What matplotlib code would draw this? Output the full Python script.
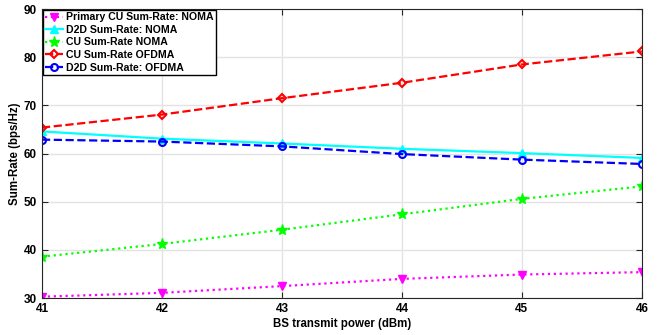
import matplotlib.pyplot as plt

plt.rcParams['font.family'] = ['Liberation Sans', 'DejaVu Sans']
plt.rcParams['font.weight'] = 'bold'

power = [41, 42, 43, 44, 45, 46]
primary_cu_noma = [30.3, 31.1, 32.5, 34.0, 34.9, 35.4]
d2d_noma = [64.6, 63.1, 62.1, 61.0, 60.1, 59.1]
cu_noma = [38.6, 41.25, 44.2, 47.4, 50.6, 53.2]
cu_ofdma = [65.4, 68.1, 71.5, 74.7, 78.5, 81.2]
d2d_ofdma = [62.9, 62.5, 61.5, 59.9, 58.75, 57.85]

fig = plt.figure(figsize=(6.61, 3.35), dpi=100)
ax = fig.add_axes([0.0635, 0.110, 0.9075, 0.863])

ax.plot(power, primary_cu_noma, ':', color='magenta', lw=1.6, marker='v', ms=6,
        label='Primary CU Sum-Rate: NOMA')
ax.plot(power, d2d_noma, '-', color='cyan', lw=1.6, marker='^', ms=6,
        label='D2D Sum-Rate: NOMA')
ax.plot(power, cu_noma, ':', color='#00ff00', lw=1.6, marker='*', ms=8,
        label='CU Sum-Rate NOMA')
ax.plot(power, cu_ofdma, '--', color='red', lw=1.6, marker='D', ms=4.5, mfc='none', mew=1.5,
        label='CU Sum-Rate OFDMA')
ax.plot(power, d2d_ofdma, '--', color='blue', lw=1.6, marker='o', ms=5, mfc='none', mew=1.5,
        label='D2D Sum-Rate: OFDMA')

ax.set_xlim(41, 46)
ax.set_ylim(30, 90)
ax.set_xticks(power)
ax.set_yticks(range(30, 91, 10))
ax.grid(True, color='#e3e3e3', lw=1)
ax.tick_params(direction='in', top=True, right=True, labelsize=8.5, length=4, color='#262626')
for s in ax.spines.values():
    s.set_color('#262626')
ax.set_xlabel('BS transmit power (dBm)', fontsize=8.3, fontweight='bold', labelpad=2)
ax.set_ylabel('Sum-Rate (bps/Hz)', fontsize=8.3, fontweight='bold', labelpad=2)

leg = ax.legend(loc='upper left', fontsize=7.6, handlelength=1.7, borderpad=0.2,
                labelspacing=0.25, handletextpad=0.3, borderaxespad=0.1, fancybox=False,
                framealpha=1)
leg.get_frame().set_edgecolor('black')
for t in leg.get_texts():
    t.set_fontweight('bold')

fig.savefig('out.png', dpi=100)
